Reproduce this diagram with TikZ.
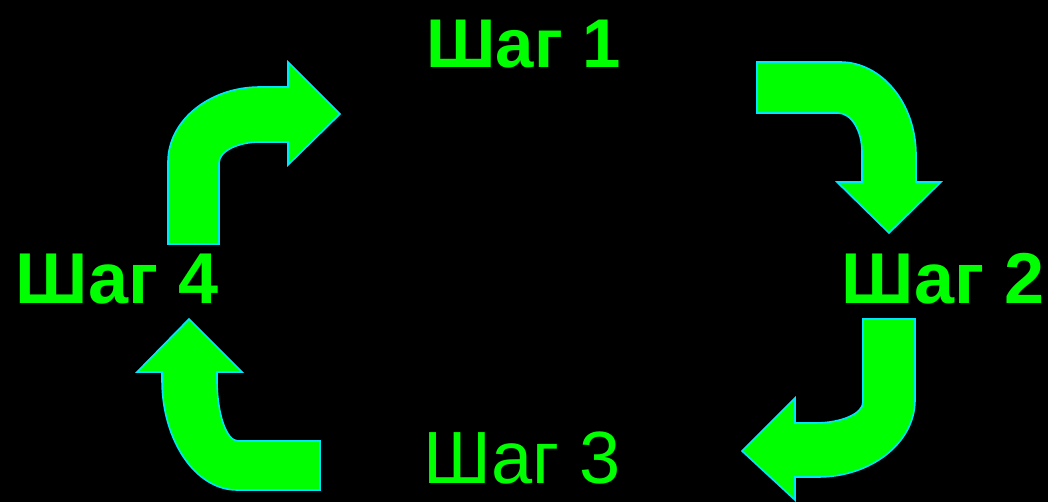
\documentclass[tikz,border=0pt]{standalone}
\usepackage{fontspec}
\setmainfont{Liberation Sans}
\begin{document}
\begin{tikzpicture}[x=1pt,y=-1pt,
  bentarrow/.style={fill={rgb,255:red,0;green,255;blue,0}, draw={rgb,255:red,0;green,230;blue,255}, line width=1.6pt, line join=miter},
  steplabel/.style={text={rgb,255:red,0;green,255;blue,0}, anchor=base, inner sep=0pt, font=\fontsize{72}{72}\selectfont\bfseries},
  steplabeltop/.style={steplabel, font=\fontsize{69}{69}\selectfont\bfseries},
  steplabelthin/.style={steplabel, font=\fontsize{74}{74}\selectfont}]
% black canvas
\fill[black] (0,0) rectangle (1048,502);
\useasboundingbox (0,0) rectangle (1048,502);

% step labels
\node[steplabeltop] (s1) at (523.5,68) {Шаг 1};
\node[steplabel] (s2) at (943,303) {Шаг 2};
\node[steplabelthin] (s3) at (522,483) {Шаг 3};
\node[steplabel] (s4) at (117,303) {Шаг 4};

% arrow from step 4 to step 1
\draw[bentarrow] (168,244) -- (168,162)
  .. controls (168,120.6) and (209.2,87) .. (260,87)
  -- (288,87) -- (288,62) -- (340,114) -- (288,165) -- (288,142) -- (260,142)
  .. controls (237.4,142) and (219,151.4) .. (219,163)
  -- (219,244) -- cycle;

% arrow from step 1 to step 2
\draw[bentarrow] (757,62) -- (840,62)
  .. controls (882,62) and (916,103.7) .. (916,155)
  -- (916,182) -- (941,182) -- (889,233) -- (837,182) -- (862,182) -- (862,152)
  .. controls (862,130.5) and (851.2,113) .. (838,113)
  -- (757,113) -- cycle;

% arrow from step 2 to step 3
\draw[bentarrow] (863,319) -- (915,319) -- (915,400)
  .. controls (915,442.5) and (871.5,477) .. (818,477)
  -- (795,477) -- (795,500) -- (742,451) -- (795,398) -- (795,423) -- (815,423)
  .. controls (841.5,423) and (863,413.6) .. (863,402)
  -- cycle;

% arrow from step 3 to step 4
\draw[bentarrow] (189,319) -- (242,372) -- (217,372) -- (217,380)
  .. controls (217,413.7) and (226.4,441) .. (238,441)
  -- (320,441) -- (320,490) -- (237,490)
  .. controls (195.6,490) and (162,440.7) .. (162,380)
  -- (162,372) -- (137,372) -- cycle;
\end{tikzpicture}
\end{document}
